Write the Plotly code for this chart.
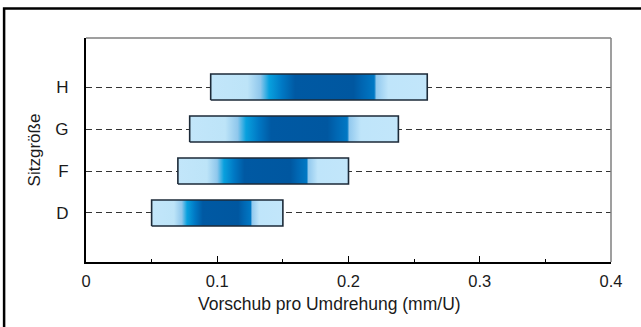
import plotly.graph_objects as go

categories = ["D", "F", "G", "H"]
feed_min = [0.050, 0.070, 0.079, 0.095]
feed_max = [0.150, 0.200, 0.238, 0.260]

x_ticks = [0, 0.1, 0.2, 0.3, 0.4]
x_ticklabels = ["0", "0.1", "0.2", "0.3", "0.4"]

bar_half = 0.31
gradient = [
    [0.00, "#c2e6fa"], [0.17, "#bde4f8"], [0.23, "#8fc7ec"], [0.27, "#08a0de"],
    [0.33, "#0078c4"], [0.39, "#0059a3"], [0.66, "#0057a0"], [0.70, "#0066b2"],
    [0.755, "#0078c4"], [0.765, "#92c9ee"], [0.82, "#bfe5fa"], [1.00, "#c2e6fa"],
]

fig = go.Figure()
for i, (cat, lo, hi) in enumerate(zip(categories, feed_min, feed_max)):
    fig.add_trace(go.Scatter(
        x=[lo, hi, hi, lo, lo],
        y=[i - bar_half, i - bar_half, i + bar_half, i + bar_half, i - bar_half],
        mode="lines", fill="toself",
        line=dict(color="#1c2a38", width=1.6),
        fillgradient=dict(type="horizontal", colorscale=gradient, start=lo, stop=hi),
        name=cat, showlegend=False, hoverinfo="skip",
    ))

font = "Liberation Sans, Arial, sans-serif"
fig.update_layout(
    width=641, height=327,
    margin=dict(l=86, r=30, t=38, b=65),
    paper_bgcolor="white", plot_bgcolor="white",
    font=dict(family=font, size=17, color="#1a1a1a"),
    xaxis=dict(
        range=[0, 0.4], tickvals=x_ticks, ticktext=x_ticklabels,
        showgrid=False, zeroline=False,
        showline=True, linecolor="black", linewidth=2,
        ticks="inside", ticklen=6, tickwidth=1, tickcolor="black",
        minor=dict(dtick=0.05, ticks="inside", ticklen=3, tickwidth=1, tickcolor="black"),
        ticklabelstandoff=3, tickfont=dict(size=16.5),
    ),
    yaxis=dict(
        range=[-1.167, 4.167], tickvals=list(range(len(categories))), ticktext=categories,
        showgrid=True, gridcolor="#333333", gridwidth=1, griddash="6px,4px",
        zeroline=False, showline=True, linecolor="black", linewidth=2,
        ticks="", ticklabelstandoff=12, tickfont=dict(size=17),
        title=dict(text="Sitzgröße", standoff=10, font=dict(size=17)),
    ),
    shapes=[
        dict(type="line", xref="paper", yref="paper", x0=0, x1=1, y0=1, y1=1,
             line=dict(color="#7f7f7f", width=1.5)),
        dict(type="line", xref="paper", yref="paper", x0=1, x1=1, y0=0, y1=1,
             line=dict(color="#7f7f7f", width=1.5)),
        dict(type="rect", xref="paper", yref="paper", x0=-0.156, x1=1.08, y0=-0.35, y1=1.132,
             line=dict(color="black", width=2.5), layer="below"),
    ],
    annotations=[
        dict(text="Vorschub pro Umdrehung (mm/U)", xref="paper", yref="paper",
             x=(329 - 86) / 525, y=(262 - 292) / 224, xanchor="center", yanchor="top",
             showarrow=False, font=dict(size=17.5, family=font)),
    ],
)

fig.write_html("out.html", post_script="document.body.style.margin='0';",
               config={"displayModeBar": False})
